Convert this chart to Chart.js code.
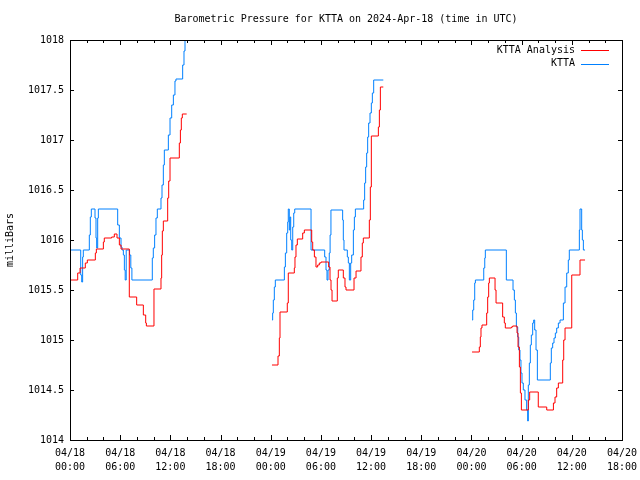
<!DOCTYPE html>
<html>
<head>
<meta charset="utf-8">
<title>Barometric Pressure for KTTA</title>
<script src="https://cdn.jsdelivr.net/npm/chart.js@4"></script>
<style>
  body { margin: 0; background: #fff; }
  #chart { display: block; }
</style>
</head>
<body>
<canvas id="chart" width="640" height="480"></canvas>
<script>
// hours since 04/18 00:00 UTC, null marks a gap in the record
const analysisHours = [
  0.08, 0.92, 1.2, 1.83, 2.07, 3.03, 3.15, 3.99, 4.1, 4.98, 5.3, 5.62, 5.9, 6.1, 7.09, 7.97,
  8.77, 9.05, 9.13, 10.04, 10.88, 10.96, 11.04, 11.16, 11.68, 11.8, 11.96, 13.07, 13.2, 13.31, 13.43, 13.95,
  19,
  24.15, 24.87, 25.03, 25.11, 25.98, 26.1, 26.82, 26.9, 27.02, 27.18, 27.82, 28.02, 28.9, 29.02, 29.22,
  29.41, 29.61, 29.81, 30.01, 30.93, 31.09, 31.21, 31.33, 31.96, 32.08, 32.68, 32.88, 33.0, 33.96, 34.2,
  34.79, 34.95, 35.07, 35.79, 35.91, 36.03, 36.87, 36.99, 37.11, 37.46,
  43,
  48.07, 48.94, 49.06, 49.14, 49.26, 49.82, 49.94, 50.06, 50.14, 50.82, 50.94, 51.73, 51.93, 52.05, 52.77,
  52.93, 53.45, 53.57, 53.73, 53.85, 53.97, 54.8, 54.96, 55.99, 57.0, 57.8, 57.99, 58.19, 58.39, 58.91,
  59.03, 59.19, 59.99, 60.98, 61.58
];
const analysisMb = [
  1015.60, 1015.67, 1015.72, 1015.77, 1015.80, 1015.87, 1015.91, 1015.98, 1016.02, 1016.03, 1016.06, 1016.02,
  1015.95, 1015.91, 1015.43, 1015.35, 1015.25, 1015.17, 1015.14, 1015.51, 1015.62, 1015.85, 1016.09, 1016.19,
  1016.42, 1016.59, 1016.82, 1016.97, 1017.10, 1017.22, 1017.26, 1017.26,
  null,
  1014.75, 1014.84, 1015.02, 1015.28, 1015.37, 1015.67, 1015.72, 1015.83, 1015.95, 1016.01, 1016.07, 1016.10,
  1015.98, 1015.90, 1015.83, 1015.73, 1015.75, 1015.77, 1015.78, 1015.73, 1015.60, 1015.50, 1015.39, 1015.62,
  1015.70, 1015.62, 1015.53, 1015.50, 1015.62, 1015.69, 1015.83, 1015.97, 1016.02, 1016.20, 1016.53, 1017.04,
  1017.13, 1017.30, 1017.53, 1017.53,
  null,
  1014.88, 1014.93, 1015.03, 1015.12, 1015.15, 1015.27, 1015.43, 1015.57, 1015.62, 1015.50, 1015.37, 1015.23,
  1015.17, 1015.12, 1015.13, 1015.14, 1015.07, 1014.93, 1014.73, 1014.47, 1014.30, 1014.40, 1014.48, 1014.33,
  1014.30, 1014.37, 1014.43, 1014.52, 1014.57, 1014.80, 1015.00, 1015.12, 1015.65, 1015.80, 1015.80
];

const kttaHours = [
  0.08, 1.28, 1.4, 1.51, 1.59, 2.31, 2.43, 2.55, 2.99, 3.11, 3.19, 3.31, 3.39, 5.7, 5.9, 6.1, 6.22, 6.38,
  6.5, 6.6, 6.72, 7.12, 7.27, 7.4, 9.84, 9.96, 10.12, 10.28, 10.44, 10.88, 11.0, 11.16, 11.28, 11.76,
  11.96, 12.16, 12.36, 12.55, 12.67, 13.47, 13.63, 13.75, 13.95,
  19,
  24.15, 24.23, 24.31, 24.43, 24.55, 25.63, 25.75, 25.91, 26.03, 26.1, 26.22, 26.3, 26.39, 26.51, 26.63,
  26.75, 26.87, 28.82, 30.45, 30.61, 30.73, 30.85, 31.0, 31.1, 31.2, 32.6, 32.68, 32.76, 33.16, 33.28,
  33.4, 33.56, 33.68, 33.88, 34.0, 34.12, 35.11, 35.23, 35.35, 35.47, 35.59, 35.71, 35.87, 36.03, 36.15,
  36.31, 37.46,
  43,
  48.07, 48.15, 48.27, 48.39, 48.47, 49.47, 49.59, 49.66, 52.17, 52.97, 53.13, 53.25, 53.37, 53.53, 53.65,
  53.8, 53.92, 54.04, 54.2, 54.4, 54.6, 54.72, 54.8, 54.92, 55.04, 55.16, 55.32, 55.44, 55.56, 55.72,
  55.88, 57.43, 57.55, 57.71, 57.87, 58.03, 58.19, 58.39, 58.59, 58.99, 59.19, 59.39, 59.58, 59.7, 60.9,
  60.98, 61.18, 61.26, 61.38, 61.58
];
const kttaMb = [
  1015.90, 1015.65, 1015.58, 1015.83, 1015.90, 1016.05, 1016.23, 1016.31, 1016.22, 1016.02, 1015.92, 1016.22,
  1016.31, 1016.15, 1016.02, 1015.93, 1015.90, 1015.85, 1015.70, 1015.60, 1015.90, 1015.85, 1015.72, 1015.60,
  1015.82, 1015.92, 1016.05, 1016.22, 1016.31, 1016.42, 1016.55, 1016.75, 1016.90, 1017.05, 1017.22, 1017.35,
  1017.45, 1017.59, 1017.61, 1017.75, 1017.89, 1018.02, 1018.10,
  null,
  1015.20, 1015.27, 1015.40, 1015.53, 1015.60, 1015.73, 1015.87, 1016.07, 1016.18, 1016.31, 1016.10, 1016.23,
  1016.00, 1015.90, 1016.13, 1016.27, 1016.31, 1015.90, 1015.83, 1015.70, 1015.60, 1015.70, 1015.87, 1016.05,
  1016.30, 1016.20, 1016.00, 1015.90, 1015.83, 1015.77, 1015.60, 1015.77, 1015.85, 1016.10, 1016.23, 1016.31,
  1016.40, 1016.57, 1016.73, 1016.87, 1017.03, 1017.17, 1017.27, 1017.37, 1017.47, 1017.60, 1017.60,
  null,
  1015.20, 1015.30, 1015.40, 1015.57, 1015.60, 1015.72, 1015.82, 1015.90, 1015.60, 1015.50, 1015.40, 1015.27,
  1015.13, 1015.03, 1014.90, 1014.80, 1014.67, 1014.57, 1014.50, 1014.40, 1014.30, 1014.19, 1014.55, 1014.77,
  1014.95, 1015.05, 1015.17, 1015.20, 1015.10, 1014.90, 1014.60, 1014.77, 1014.92, 1014.97, 1015.02, 1015.07,
  1015.12, 1015.17, 1015.20, 1015.37, 1015.53, 1015.67, 1015.80, 1015.90, 1016.10, 1016.31, 1016.10, 1016.00,
  1015.90, 1015.90
];

const xTickDates = ["04/18", "04/18", "04/18", "04/18", "04/19", "04/19", "04/19", "04/19", "04/20", "04/20", "04/20", "04/20"];
const xTickTimes = ["00:00", "06:00", "12:00", "18:00", "00:00", "06:00", "12:00", "18:00", "00:00", "06:00", "12:00", "18:00"];

const titleText = "Barometric Pressure for KTTA on 2024-Apr-18 (time in UTC)";
const FONT = "'DejaVu Sans Mono', 'Liberation Mono', monospace";

function toPoints(hours, values) {
  return hours.map((h, i) => ({ x: h, y: values[i] }));
}

// gnuplot style box with inward ticks on all four sides, plus the key
const frame = {
  id: "frame",
  afterDraw(chart) {
    const { ctx, chartArea: a, scales } = chart;
    ctx.save();
    ctx.strokeStyle = "#000";
    ctx.lineWidth = 1;
    ctx.strokeRect(a.left + 0.5, a.top + 0.5, a.right - a.left, a.bottom - a.top);

    ctx.beginPath();
    for (let h = scales.x.min; h <= scales.x.max; h += 2) {
      const x = Math.round(scales.x.getPixelForValue(h)) + 0.5;
      const len = h % 6 === 0 ? 5 : 3;
      ctx.moveTo(x, a.bottom);
      ctx.lineTo(x, a.bottom - len);
      ctx.moveTo(x, a.top);
      ctx.lineTo(x, a.top + len);
    }
    scales.y.ticks.forEach((t) => {
      const y = Math.round(scales.y.getPixelForValue(t.value)) + 0.5;
      ctx.moveTo(a.left, y);
      ctx.lineTo(a.left + 4, y);
      ctx.moveTo(a.right, y);
      ctx.lineTo(a.right - 4, y);
    });
    ctx.stroke();

    ctx.font = "10px " + FONT;
    ctx.textAlign = "right";
    ctx.textBaseline = "middle";
    chart.data.datasets.forEach((ds, i) => {
      const y = a.top + 10 + i * 13.5;
      ctx.fillStyle = "#000";
      ctx.fillText(ds.label, a.right - 47, y);
      ctx.strokeStyle = ds.borderColor;
      ctx.beginPath();
      ctx.moveTo(a.right - 41, Math.round(y) + 0.5);
      ctx.lineTo(a.right - 13, Math.round(y) + 0.5);
      ctx.stroke();
    });
    ctx.restore();
  },
};

Chart.defaults.font.family = FONT;
Chart.defaults.font.size = 10;
Chart.defaults.color = "#000";

new Chart(document.getElementById("chart"), {
  type: "line",
  data: {
    datasets: [
      {
        label: "KTTA Analysis",
        data: toPoints(analysisHours, analysisMb),
        borderColor: "#ff0000",
        borderWidth: 1,
        stepped: "before",
        pointRadius: 0,
        spanGaps: false,
        clip: 0,
      },
      {
        label: "KTTA",
        data: toPoints(kttaHours, kttaMb),
        borderColor: "#0080ff",
        borderWidth: 1,
        stepped: "before",
        pointRadius: 0,
        spanGaps: false,
        clip: 0,
      },
    ],
  },
  options: {
    responsive: false,
    animation: false,
    events: [],
    layout: { padding: { left: 0, right: 18, top: 0, bottom: 0 } },
    plugins: {
      legend: { display: false },
      tooltip: { enabled: false },
      title: {
        display: true,
        text: titleText,
        fullSize: false,
        font: { size: 10, weight: "normal" },
        padding: { top: 13, bottom: 15 },
      },
    },
    scales: {
      x: {
        type: "linear",
        min: 0,
        max: 66,
        grid: { display: false, drawTicks: false },
        border: { display: false },
        ticks: {
          stepSize: 6,
          autoSkip: false,
          maxRotation: 0,
          padding: 6,
          font: { size: 10, lineHeight: 1.4 },
          callback: (value, index) => [xTickDates[index], xTickTimes[index]],
        },
        afterFit: (scale) => {
          scale.height = 40;
          scale.paddingLeft = 0;
          scale.paddingRight = 0;
        },
      },
      y: {
        min: 1014,
        max: 1018,
        grid: { display: false, drawTicks: false },
        border: { display: false },
        ticks: {
          stepSize: 0.5,
          padding: 6,
          callback: (value) => String(value),
        },
        title: {
          display: true,
          text: "milliBars",
          font: { size: 10 },
          padding: { top: 4, bottom: 0 },
        },
        afterFit: (scale) => { scale.width = 70; },
      },
    },
  },
  plugins: [frame],
});
</script>
</body>
</html>
